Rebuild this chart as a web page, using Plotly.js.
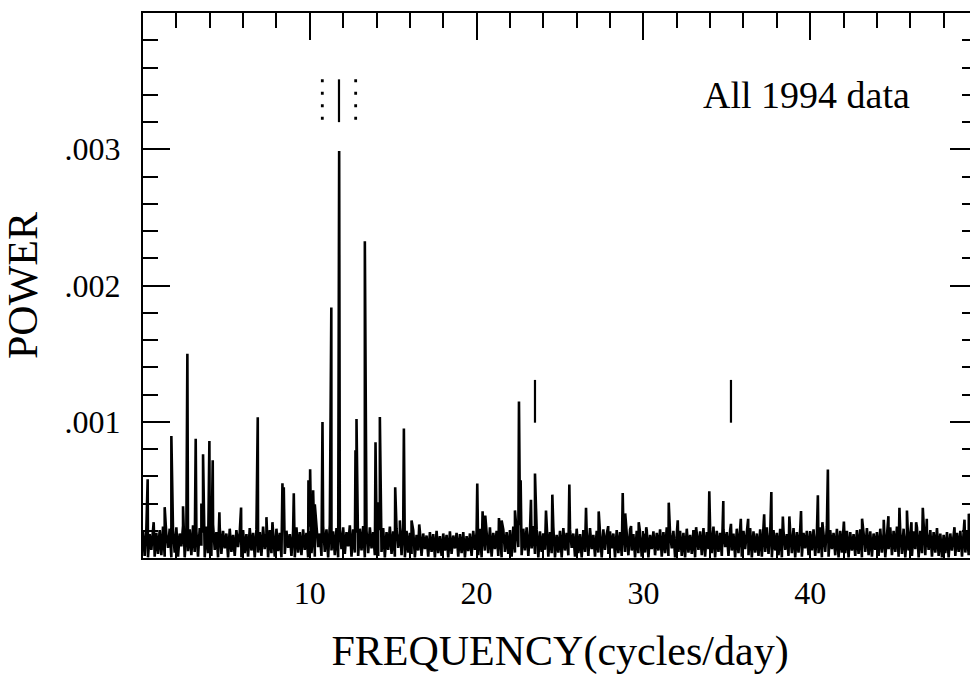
<!DOCTYPE html>
<html>
<head>
<meta charset="utf-8">
<script src="https://cdn.plot.ly/plotly-3.0.1.min.js"></script>
<style>
html,body{margin:0;padding:0;overflow:hidden;background:#fff;}
#chart{width:985px;height:690px;}
</style>
</head>
<body>
<div id="chart"></div>
<script>
// Periodogram: power in units of 1e-6 (ppm); axis labels show the real values.
const noiseStart = 0.0;   // cycles/day
const noiseStep = 0.1;    // cycles/day
const noisePower = [
190,15,210,5,175,60,220,10,185,30,
205,20,230,10,170,75,215,5,200,40,
225,10,180,85,235,5,195,50,210,20,
240,45,195,10,220,90,185,5,230,35,
210,15,245,60,190,5,225,30,200,70,
180,5,215,45,170,15,205,80,190,5,
205,35,175,10,220,55,185,5,210,40,
190,15,230,65,180,5,205,35,195,10,
215,50,185,5,240,30,200,75,175,15,
200,5,225,40,190,20,210,60,185,5,
230,35,200,10,215,80,180,15,235,45,
210,5,245,55,195,20,220,5,205,65,
225,30,190,85,240,10,210,40,185,15,
215,55,235,5,200,35,225,70,190,20,
240,15,205,45,220,5,190,60,230,30,
195,10,215,75,180,20,225,5,200,40,
185,30,205,5,170,55,195,15,180,65,
165,10,190,45,175,5,200,35,160,15,
180,55,170,5,195,30,165,70,185,10,
175,35,190,5,160,50,180,15,200,60,
190,20,215,5,180,55,205,35,225,10,
185,65,200,15,175,5,210,45,190,30,
205,10,230,40,195,80,240,20,215,55,
225,15,200,70,235,30,210,5,195,45,
180,60,215,10,190,35,225,5,170,40,
200,5,220,55,185,20,210,75,180,10,
215,35,175,5,205,45,190,15,220,65,
170,10,200,40,185,5,210,60,175,30,
195,70,180,5,205,35,190,15,215,45,
185,20,210,55,175,5,200,35,190,10,
180,40,205,5,170,65,195,20,185,55,
210,10,190,35,225,15,180,70,200,5,
175,45,200,15,185,5,215,40,170,30,
205,5,180,60,195,20,220,10,190,65,
215,35,230,5,200,45,185,15,210,80,
190,15,205,55,180,5,215,35,175,10,
200,65,185,20,220,5,195,40,180,15,
210,10,190,45,225,30,180,5,205,55,
185,20,215,5,200,60,175,15,195,35,
220,5,190,40,210,10,185,70,200,20,
195,55,210,15,180,35,225,5,190,45,
230,10,205,65,185,20,215,5,200,40,
180,35,200,5,190,55,175,15,205,30,
210,5,185,45,220,20,195,10,180,60,
190,15,215,40,180,5,205,65,225,20,
200,45,230,10,190,30,215,5,185,55,
215,15,195,65,225,5,200,35,210,20,
185,60,205,10,190,40,220,15,180,5,
170,35,190,5,180,55,165,15,185,45,
200,10,215,40,190,20,225,60,205,30,
210
];

const peakFreq = [
0.28,0.64,1.30,1.70,2.40,2.66,3.16,3.50,3.60,3.98,4.18,4.58,5.88,6.88,7.40,7.76,
8.36,8.44,9.04,9.92,10.02,10.20,10.30,10.76,11.29,11.76,12.74,12.80,13.30,13.94,14.10,14.20,
15.12,15.40,15.64,16.10,16.56,20.04,20.36,20.52,21.34,21.50,22.30,22.54,22.64,23.26,23.50,
24.16,24.54,25.56,26.56,27.32,27.89,28.76,28.91,29.26,29.72,30.17,31.52,32.06,33.16,33.95,
34.79,35.25,35.84,36.28,37.24,37.67,38.36,38.75,39.45,40.46,40.73,41.06,42.02,43.11,44.41,
44.69,45.35,45.80,46.07,46.35,46.75,46.99,48.65,49.25,49.51
];
const peakPower = [
578,263,373,895,379,1499,875,400,762,858,718,335,371,1033,300,263,
548,519,475,570,651,497,394,998,1838,2988,790,1020,2325,850,410,1035,
519,276,951,276,246,546,342,312,293,276,349,1148,570,428,620,
349,465,539,369,342,234,477,327,234,263,226,406,276,226,489,
418,251,288,288,320,484,305,305,344,460,263,649,268,288,281,
307,369,349,263,263,369,288,226,281,325
];

// Marker ticks above the main peak (aliases) and at its harmonics
const aliasFreq = [10.75, 11.75, 12.75];
const aliasDash = ["dotted", "solid", "dotted"];
const aliasRange = [3513, 3199];
const harmonicFreq = [23.50, 35.25];
const harmonicRange = [1307, 993];

const xTickVals = [10, 20, 30, 40];
const xTickText = ["10", "20", "30", "40"];
const yTickVals = [1000, 2000, 3000];
const yTickText = [".001", ".002", ".003"];

const pts = [];
noisePower.forEach((p, i) => pts.push([+(noiseStart + i * noiseStep).toFixed(3), p]));
peakFreq.forEach((f, i) => pts.push([f, peakPower[i]]));
pts.sort((a, b) => a[0] - b[0]);

const trace = {
  x: pts.map(p => p[0]),
  y: pts.map(p => p[1]),
  type: "scatter",
  mode: "lines",
  line: {color: "#000", width: 2.6},
  hoverinfo: "skip"
};

const shapes = [];
aliasFreq.forEach((f, i) => {
  shapes.push({
    type: "line", xref: "x", yref: "y",
    x0: f, x1: f, y0: aliasRange[0], y1: aliasRange[1],
    line: {color: "#000", width: aliasDash[i] === "solid" ? 2.2 : 2.8,
           dash: aliasDash[i] === "solid" ? "solid" : "3px,9.5px"}
  });
});
harmonicFreq.forEach(f => {
  shapes.push({
    type: "line", xref: "x", yref: "y",
    x0: f, x1: f, y0: harmonicRange[0], y1: harmonicRange[1],
    line: {color: "#000", width: 2.2}
  });
});

const serif = "Liberation Serif, Times New Roman, serif";

const layout = {
  width: 985, height: 690,
  margin: {l: 143, r: 8, t: 13, b: 132, pad: 0},
  paper_bgcolor: "#fff", plot_bgcolor: "#fff",
  showlegend: false,
  font: {family: serif, color: "#000"},
  xaxis: {
    range: [0, 50],
    tickmode: "array", tickvals: xTickVals, ticktext: xTickText,
    ticks: "inside", ticklen: 27, tickwidth: 2, tickcolor: "#000",
    minor: {dtick: 2, tick0: 0, ticks: "inside", ticklen: 15, tickwidth: 2, tickcolor: "#000", showgrid: false},
    showline: true, linewidth: 2, linecolor: "#000", mirror: "allticks",
    showgrid: false, zeroline: false,
    tickfont: {family: serif, size: 32, color: "#000"},
    ticklabelstandoff: 6,
    title: {text: "FREQUENCY(cycles/day)", font: {family: serif, size: 42, color: "#000"}, standoff: 25}
  },
  yaxis: {
    range: [0, 4000],
    tickmode: "array", tickvals: yTickVals, ticktext: yTickText,
    ticks: "inside", ticklen: 27, tickwidth: 2, tickcolor: "#000",
    minor: {dtick: 200, tick0: 0, ticks: "inside", ticklen: 15, tickwidth: 2, tickcolor: "#000", showgrid: false},
    showline: true, linewidth: 2, linecolor: "#000", mirror: "allticks",
    showgrid: false, zeroline: false,
    tickfont: {family: serif, size: 32, color: "#000"},
    ticklabelstandoff: 14,
    title: {text: "POWER", font: {family: serif, size: 42, color: "#000"}, standoff: 16}
  },
  shapes: shapes,
  annotations: [{
    text: "All 1994 data", xref: "paper", yref: "paper",
    x: 0.922, y: 0.85, xanchor: "right", yanchor: "middle",
    showarrow: false, font: {family: serif, size: 38, color: "#000"}
  }]
};

Plotly.newPlot("chart", [trace], layout, {staticPlot: true, displayModeBar: false});
</script>
</body>
</html>
